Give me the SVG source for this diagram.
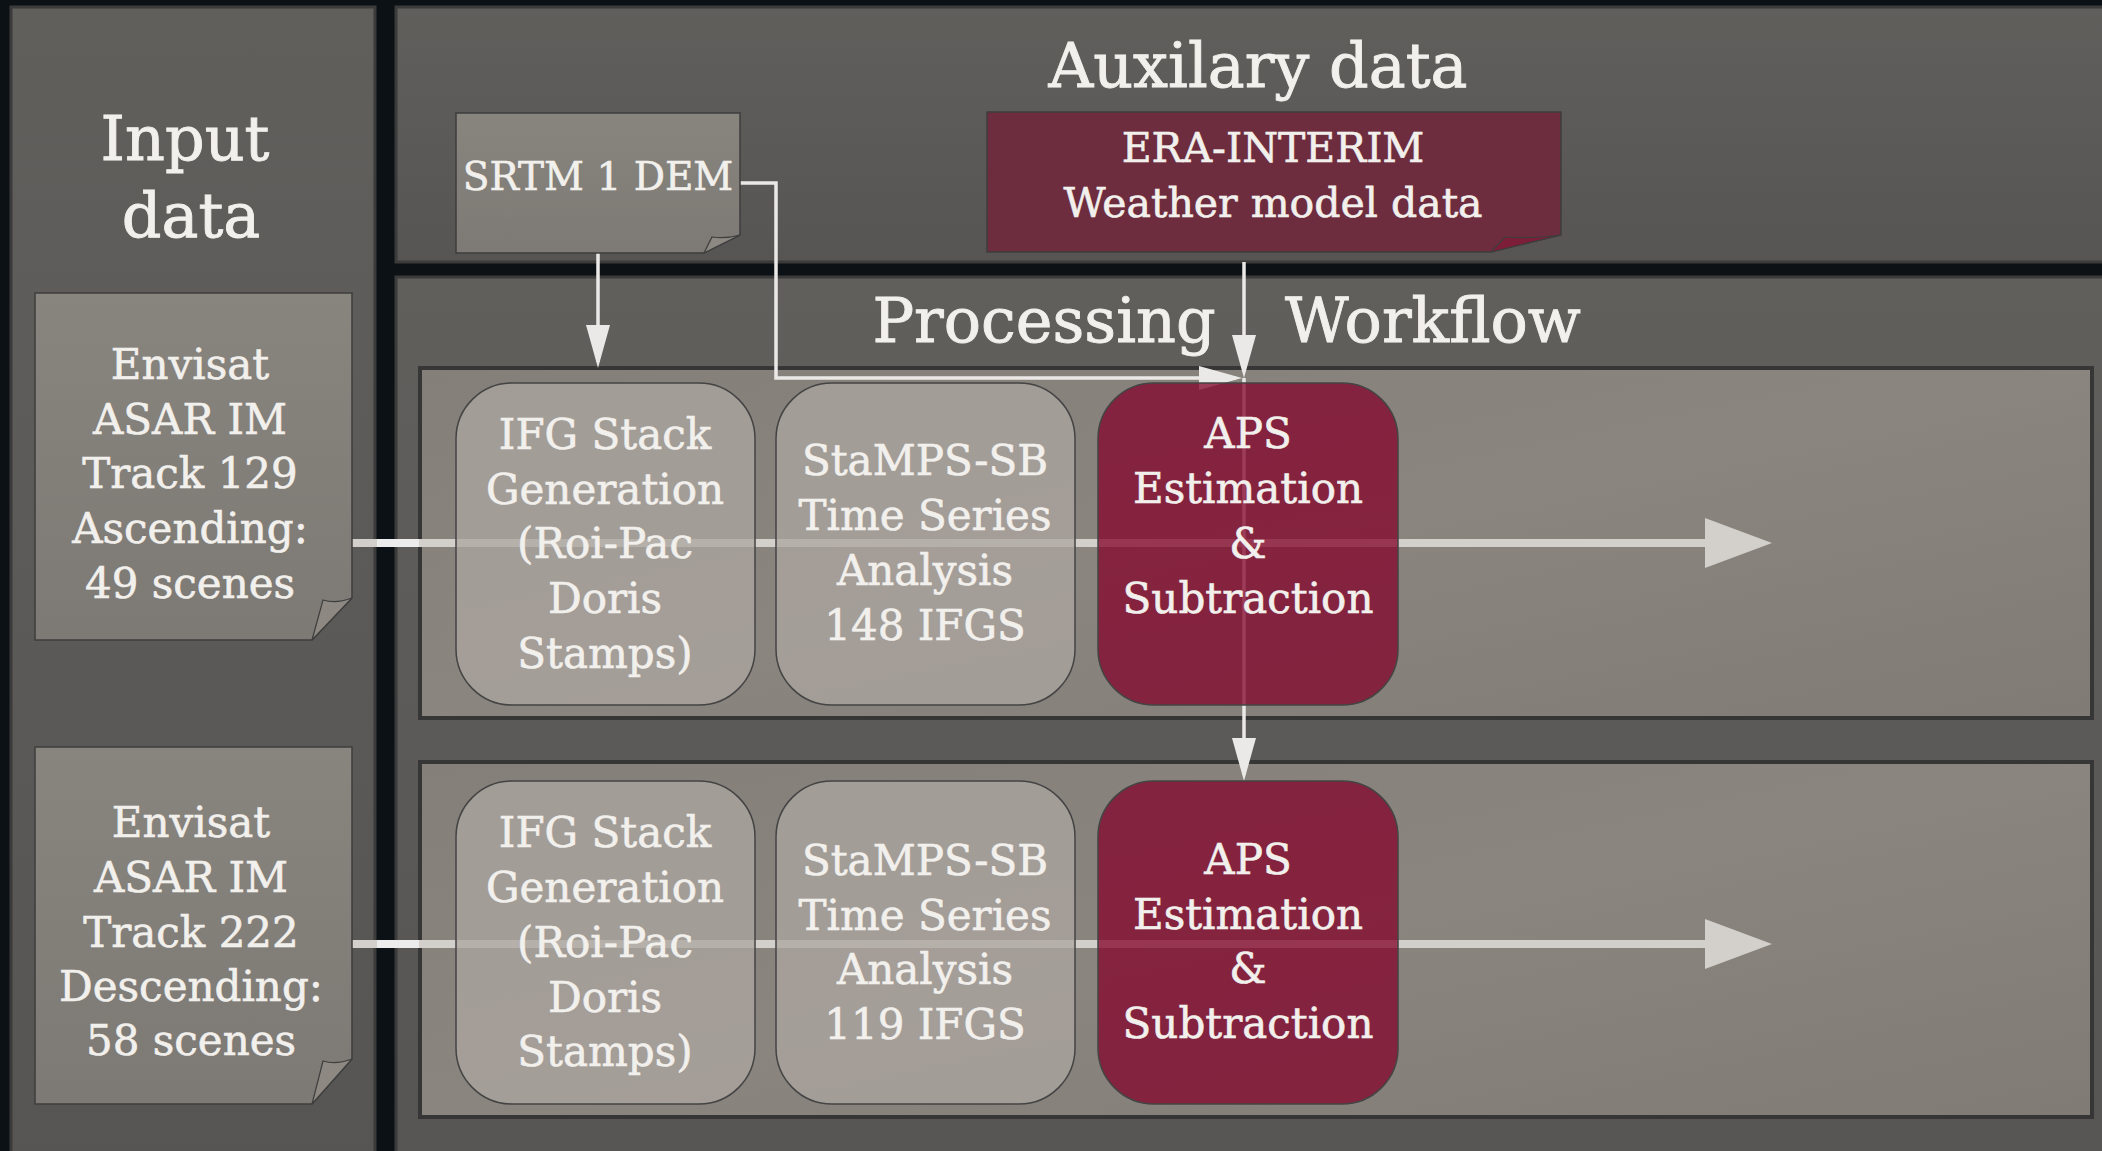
<svg xmlns="http://www.w3.org/2000/svg" width="2102" height="1151" viewBox="0 0 2102 1151">
<defs>
<linearGradient id="gPanel" x1="0" y1="0" x2="0" y2="1">
<stop offset="0" stop-color="#605f5c"/>
<stop offset="1" stop-color="#565553"/>
</linearGradient>
<linearGradient id="gRow" x1="0" y1="0" x2="1" y2="1">
<stop offset="0" stop-color="#847f79"/>
<stop offset="0.5" stop-color="#8a857f"/>
<stop offset="1" stop-color="#807b75"/>
</linearGradient>
<linearGradient id="gDoc" x1="0" y1="0" x2="0" y2="1">
<stop offset="0" stop-color="#88847e"/>
<stop offset="1" stop-color="#7d7974"/>
</linearGradient>
<marker id="aThin" viewBox="0 0 43 24" refX="37" refY="12" markerWidth="43" markerHeight="24" markerUnits="userSpaceOnUse" orient="auto">
<path d="M0,0 L43,12 L0,24 Z" fill="#ebe9e7"/>
</marker>
<marker id="aFlow" viewBox="0 0 67 50" refX="5" refY="25" markerWidth="67" markerHeight="50" markerUnits="userSpaceOnUse" orient="auto">
<path d="M0,0 L67,25 L0,50 Z" fill="#d3cfca"/>
</marker>
</defs>
<style>
.panel{fill:url(#gPanel);stroke:#3b3b3b;stroke-width:3}
.row{fill:url(#gRow);stroke:#363636;stroke-width:4}
.doc{fill:url(#gDoc);stroke:#3e3e3e;stroke-width:1.5}
.curl{fill:#8d8882;stroke:#3e3e3e;stroke-width:1.2}
.era{fill:#6e2d3f;stroke:#3e3e3e;stroke-width:1.5}
.eracurl{fill:#7c1e37;stroke:#3e3e3e;stroke-width:1.2}
.proc{fill:#aca5a0;fill-opacity:0.76;stroke:#444;stroke-width:1.5}
.aps{fill:#83052b;fill-opacity:0.76;stroke:#444;stroke-width:1.5}
text{font-family:"DejaVu Serif","Liberation Serif",serif;fill:#f2f0ec;stroke:#f2f0ec;stroke-width:0.6;text-anchor:middle}
.title{font-size:62px;stroke-width:0.9}
.lbl{font-size:42px}
.lbls{font-size:39px}
.lble{font-size:41px}
.thin{fill:none;stroke:#ebe9e7;stroke-width:3.5}
.flow{fill:none;stroke:#d3cfca;stroke-width:8}
.flowb{fill:none;stroke:#ececec;stroke-width:8}
</style>
<rect x="0" y="0" width="2102" height="1151" fill="#0c1115"/>
<g id="panels">
<rect class="panel" x="11" y="7" width="364" height="1160"/>
<rect class="panel" x="396" y="7" width="1720" height="255"/>
<rect class="panel" x="396" y="277" width="1720" height="890"/>
<rect class="row" x="420" y="368" width="1672" height="350"/>
<rect class="row" x="420" y="762" width="1672" height="355"/>
</g>
<g id="titles">
<text class="title" x="185" y="160">Input</text>
<text class="title" x="191" y="237">data</text>
<text class="title" x="1258" y="87">Auxilary data</text>
<text class="title" y="342"><tspan x="1044">Processing</tspan><tspan x="1433">Workflow</tspan></text>
</g>
<g id="connectors">
<path class="flow" d="M352,543 H1710" marker-end="url(#aFlow)"/>
<path class="flowb" d="M377,543 H419"/>
<path class="flow" d="M352,944 H1710" marker-end="url(#aFlow)"/>
<path class="flowb" d="M377,944 H419"/>
<path class="thin" d="M598,253 V362" marker-end="url(#aThin)"/>
<path class="thin" d="M740,183 H776 V378 H1236" marker-end="url(#aThin)"/>
<path class="thin" d="M1244,262 V372" marker-end="url(#aThin)"/>
<path class="thin" d="M1244,378 V775" marker-end="url(#aThin)"/>
</g>
<g id="input-129">
<path class="doc" d="M35,293 H352 V598 L312,640 H35 Z"/>
<path class="curl" d="M312,640 L323,600 Q336,604 352,598 Z"/>
<text class="lbl"><tspan x="190" y="379">Envisat</tspan><tspan x="190" y="434">ASAR IM</tspan><tspan x="190" y="488">Track 129</tspan><tspan x="190" y="543">Ascending:</tspan><tspan x="190" y="598">49 scenes</tspan></text>
</g>
<g id="input-222">
<path class="doc" d="M35,747 H352 V1059 L312,1104 H35 Z"/>
<path class="curl" d="M312,1104 L323,1061 Q336,1065 352,1059 Z"/>
<text class="lbl"><tspan x="191" y="837">Envisat</tspan><tspan x="191" y="892">ASAR IM</tspan><tspan x="191" y="947">Track 222</tspan><tspan x="191" y="1001">Descending:</tspan><tspan x="191" y="1055">58 scenes</tspan></text>
</g>
<g id="srtm">
<path class="doc" d="M456,113 H740 V235 L704,253 H456 Z"/>
<path class="curl" d="M704,253 L712,237 Q726,239 740,235 Z"/>
<text class="lbls" x="598" y="190">SRTM 1 DEM</text>
</g>
<g id="era">
<path class="era" d="M987,112 H1561 V235 L1491,252 H987 Z"/>
<path class="eracurl" d="M1491,252 L1505,237 Q1532,239 1561,235 Z"/>
<text class="lble"><tspan x="1273" y="162">ERA-INTERIM</tspan><tspan x="1273" y="217">Weather model data</tspan></text>
</g>
<g id="ifg-1">
<rect class="proc" x="456" y="383" width="299" height="322" rx="56"/>
<text class="lbl"><tspan x="605" y="449">IFG Stack</tspan><tspan x="605" y="504">Generation</tspan><tspan x="605" y="558">(Roi-Pac</tspan><tspan x="605" y="613">Doris</tspan><tspan x="605" y="668">Stamps)</tspan></text>
</g>
<g id="stamps-1">
<rect class="proc" x="776" y="383" width="299" height="322" rx="56"/>
<text class="lbl"><tspan x="925" y="475">StaMPS-SB</tspan><tspan x="925" y="530">Time Series</tspan><tspan x="925" y="585">Analysis</tspan><tspan x="925" y="640">148 IFGS</tspan></text>
</g>
<g id="aps-1">
<rect class="aps" x="1098" y="383" width="300" height="322" rx="56"/>
<text class="lbl"><tspan x="1248" y="448">APS</tspan><tspan x="1248" y="503">Estimation</tspan><tspan x="1248" y="558">&amp;</tspan><tspan x="1248" y="613">Subtraction</tspan></text>
</g>
<g id="ifg-2">
<rect class="proc" x="456" y="781" width="299" height="323" rx="56"/>
<text class="lbl"><tspan x="605" y="847">IFG Stack</tspan><tspan x="605" y="902">Generation</tspan><tspan x="605" y="957">(Roi-Pac</tspan><tspan x="605" y="1012">Doris</tspan><tspan x="605" y="1066">Stamps)</tspan></text>
</g>
<g id="stamps-2">
<rect class="proc" x="776" y="781" width="299" height="323" rx="56"/>
<text class="lbl"><tspan x="925" y="875">StaMPS-SB</tspan><tspan x="925" y="930">Time Series</tspan><tspan x="925" y="984">Analysis</tspan><tspan x="925" y="1039">119 IFGS</tspan></text>
</g>
<g id="aps-2">
<rect class="aps" x="1098" y="781" width="300" height="323" rx="56"/>
<text class="lbl"><tspan x="1248" y="874">APS</tspan><tspan x="1248" y="929">Estimation</tspan><tspan x="1248" y="983">&amp;</tspan><tspan x="1248" y="1038">Subtraction</tspan></text>
</g>
</svg>
